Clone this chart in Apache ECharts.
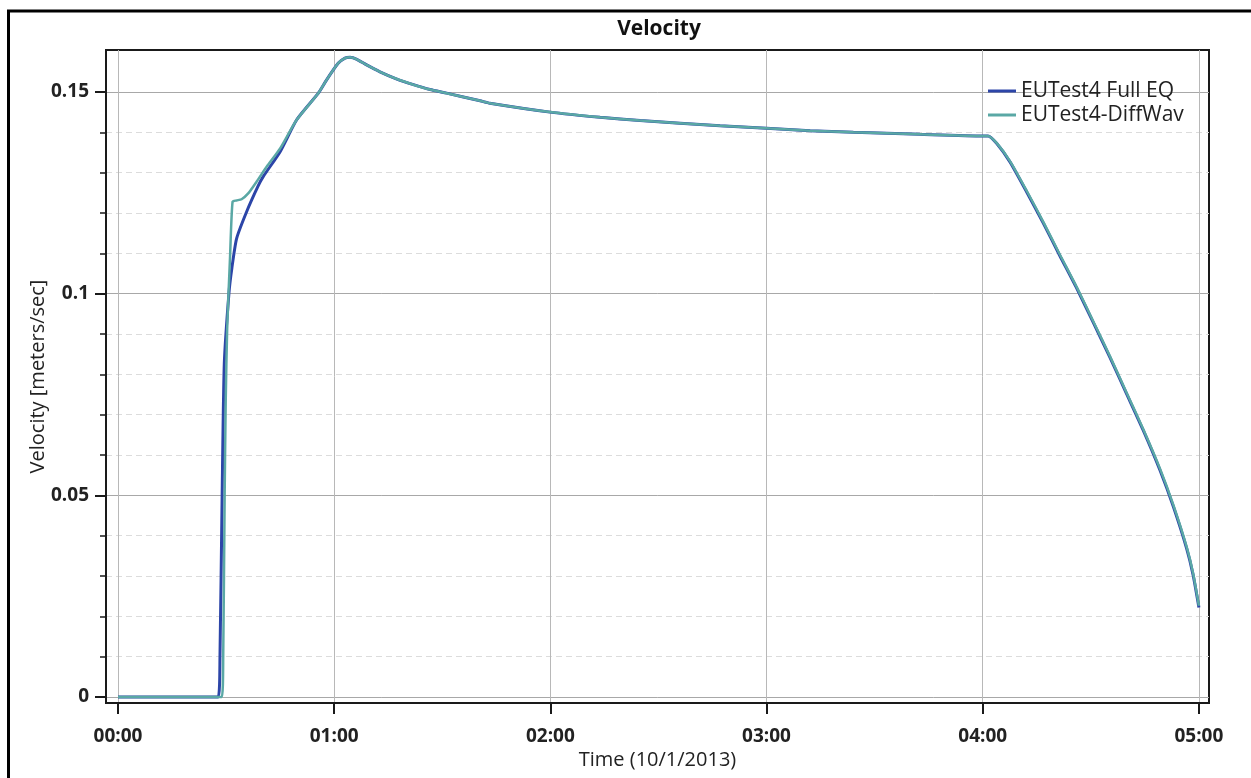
<!DOCTYPE html>
<html>
<head>
<meta charset="utf-8">
<script src="https://cdn.jsdelivr.net/npm/echarts@6/dist/echarts.min.js"></script>
<style>
html,body{margin:0;padding:0;background:#fff;}
#chart{width:1251px;height:778px;}
</style>
</head>
<body>
<div id="chart"></div>
<script>
// Time in minutes since 00:00 (10/1/2013)
const minutesFull = [0, 27.8, 28.3, 28.9, 29.5, 30.8, 31.6, 32.9, 35.7, 38.9, 40.3, 45.0, 49.6, 55.6, 57.9, 61.1, 63.0, 64.4, 66.3, 69.0, 72.7, 77.4, 82.0, 86.6, 91.2, 100.5, 103.2, 119.9, 133.8, 144.9, 167.1, 180.0, 192.1, 204.1, 222.6, 240.1, 241.5, 243.9, 247.6, 252.2, 256.8, 261.4, 266.1, 270.7, 275.3, 279.9, 284.5, 289.2, 292.9, 296.6, 298.4, 300];
const velocityFull = [0, 0, 0.0099, 0.0499, 0.0826, 0.1002, 0.1063, 0.1136, 0.1203, 0.1267, 0.1290, 0.1352, 0.1431, 0.1497, 0.1530, 0.1571, 0.1584, 0.1586, 0.1581, 0.1567, 0.1550, 0.1532, 0.1518, 0.1506, 0.1497, 0.1478, 0.1472, 0.1450, 0.1437, 0.1429, 0.1416, 0.1410, 0.1404, 0.1400, 0.1395, 0.1391, 0.1391, 0.1372, 0.1326, 0.1252, 0.1175, 0.1094, 0.1013, 0.0928, 0.0842, 0.0752, 0.0662, 0.0562, 0.0472, 0.0368, 0.0302, 0.0222];

const minutesDiff = [0, 28.8, 29.2, 29.6, 29.9, 30.3, 31.1, 31.8, 32.9, 34.3, 36.2, 38.5, 41.3, 45.0, 49.6, 55.6, 57.9, 61.1, 63.0, 64.4, 66.3, 69.0, 72.7, 77.4, 82.0, 86.6, 91.2, 100.5, 103.2, 119.9, 133.8, 144.9, 167.1, 180.0, 192.1, 204.1, 222.6, 240.1, 241.5, 243.9, 247.6, 252.2, 256.8, 261.4, 266.1, 270.7, 275.3, 279.9, 284.5, 289.2, 292.9, 296.6, 298.4, 300];
const velocityDiff = [0, 0, 0.0099, 0.0498, 0.0736, 0.0913, 0.1091, 0.1228, 0.1231, 0.1234, 0.1249, 0.1278, 0.1315, 0.1360, 0.1431, 0.1497, 0.1530, 0.1571, 0.1584, 0.1586, 0.1581, 0.1567, 0.1550, 0.1532, 0.1518, 0.1506, 0.1497, 0.1478, 0.1472, 0.1450, 0.1437, 0.1429, 0.1416, 0.1410, 0.1404, 0.1400, 0.1395, 0.1391, 0.1391, 0.1373, 0.1328, 0.1255, 0.1178, 0.1097, 0.1016, 0.0931, 0.0845, 0.0755, 0.0665, 0.0566, 0.0476, 0.0372, 0.0306, 0.0226];

const seriesNames = ['EUTest4 Full EQ', 'EUTest4-DiffWav'];
const xTickValues = [0, 60, 120, 180, 240, 300];
const yMajorValues = [0, 0.05, 0.1, 0.15];
const yMinorValues = [0, 0.01, 0.02, 0.03, 0.04, 0.05, 0.06, 0.07, 0.08, 0.09, 0.1, 0.11, 0.12, 0.13, 0.14, 0.15];

const zip = (xs, ys) => xs.map((x, i) => [x, ys[i]]);
const fmtTime = v => {
  const h = Math.floor(v / 60), m = Math.round(v - h * 60);
  return String(h).padStart(2, '0') + ':' + String(m).padStart(2, '0');
};

const FONT = '"Open Sans", "Noto Sans", sans-serif';
const chart = echarts.init(document.getElementById('chart'), null, {renderer: 'canvas'});
const yBase = {
  type: 'value', min: -0.0015, max: 0.1604, position: 'left',
  axisLine: {show: true, onZero: false, lineStyle: {color: '#1a1a1a', width: 2}}
};
chart.setOption({
  backgroundColor: '#ffffff',
  animation: false,
  title: {
    text: 'Velocity', left: 659, top: 19, textAlign: 'center', padding: 0,
    textStyle: {fontFamily: FONT, fontSize: 21, fontWeight: 'bold', color: '#111'}
  },
  graphic: [{
    type: 'rect', silent: true, z: 100,
    shape: {x: 8.5, y: 11, width: 1400, height: 900},
    style: {fill: 'none', stroke: '#000', lineWidth: 3}
  }],
  legend: {
    orient: 'vertical', left: 988, top: 79, itemGap: 0, padding: 0,
    itemWidth: 28, itemHeight: 3, icon: 'rect',
    textStyle: {fontFamily: FONT, fontSize: 21, color: '#222', lineHeight: 24},
    data: seriesNames
  },
  grid: {
    left: 106, right: 42, top: 50, bottom: 75, containLabel: false,
    show: true, borderColor: '#1a1a1a', borderWidth: 2, backgroundColor: '#fff'
  },
  xAxis: {
    type: 'value', min: -3.33, max: 302.8,
    name: 'Time (10/1/2013)', nameLocation: 'middle', nameGap: 47, nameMoveOverlap: false,
    nameTextStyle: {fontFamily: FONT, fontSize: 20, color: '#222'},
    axisLine: {show: true, onZero: false, lineStyle: {color: '#1a1a1a', width: 2}},
    axisTick: {show: true, customValues: xTickValues, length: 11, lineStyle: {color: '#1a1a1a', width: 2}},
    axisLabel: {customValues: xTickValues, formatter: fmtTime, margin: 24,
      fontFamily: FONT, fontSize: 19, fontWeight: 'bold', color: '#222'},
    splitLine: {show: true, lineStyle: {color: '#b8b8b8', width: 1}}
  },
  yAxis: [
    Object.assign({}, yBase, {
      axisTick: {show: true, customValues: yMinorValues, length: 6, lineStyle: {color: '#1a1a1a', width: 1.5}},
      axisLabel: {show: false},
      splitLine: {show: true, lineStyle: {color: '#dcdcdc', width: 1, type: [6, 4]}}
    }),
    Object.assign({}, yBase, {
      name: 'Velocity [meters/sec]', nameLocation: 'middle', nameGap: 58, nameMoveOverlap: false,
      nameTextStyle: {fontFamily: FONT, fontSize: 20, color: '#222'},
      axisTick: {show: true, customValues: yMajorValues, length: 11, lineStyle: {color: '#1a1a1a', width: 2}},
      axisLabel: {customValues: yMajorValues, margin: 17, formatter: v => String(v),
        fontFamily: FONT, fontSize: 19, fontWeight: 'bold', color: '#222'},
      splitLine: {show: true, lineStyle: {color: '#a8a8a8', width: 1}}
    })
  ],
  series: [
    {
      name: seriesNames[0], type: 'line', yAxisIndex: 0, symbol: 'none',
      smooth: 0.2,
      data: zip(minutesFull, velocityFull),
      lineStyle: {color: '#2c45a8', width: 3}, itemStyle: {color: '#2c45a8'}, z: 3
    },
    {
      name: seriesNames[1], type: 'line', yAxisIndex: 0, symbol: 'none',
      smooth: 0.2,
      data: zip(minutesDiff, velocityDiff),
      lineStyle: {color: '#5aa8a5', width: 2.5}, itemStyle: {color: '#5aa8a5'}, z: 4
    }
  ]
});
</script>
</body>
</html>
